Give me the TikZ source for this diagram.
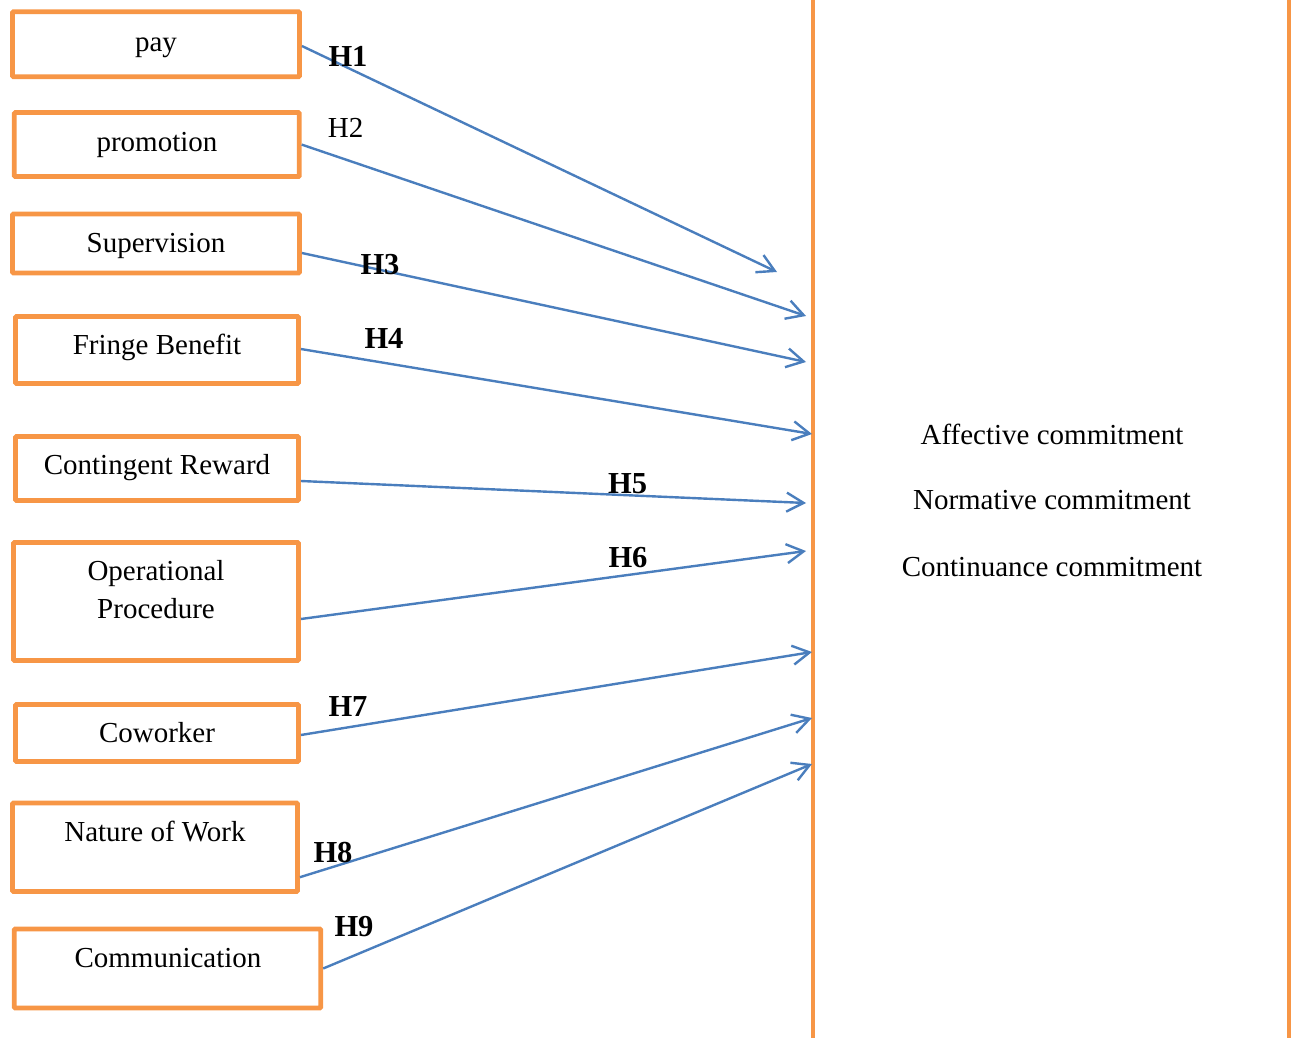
\documentclass[tikz,border=0pt]{standalone}
\usepackage{fontspec}
\setmainfont{Liberation Serif}
\usetikzlibrary{arrows.meta}
\definecolor{boxorange}{HTML}{F79646}
\definecolor{arrowblue}{HTML}{4A7EBD}
\begin{document}
\begin{tikzpicture}[x=1pt,y=-1pt,
  box/.style={draw=boxorange,line width=4.8pt,rounded corners=1pt,inner sep=0pt,fill=white},
  txt/.style={font=\fontsize{29}{34}\selectfont,inner sep=0pt,anchor=base},
  hyp/.style={font=\fontsize{30.5}{34}\selectfont\bfseries,inner sep=0pt,anchor=base},
  hypn/.style={font=\fontsize{29}{34}\selectfont,inner sep=0pt,anchor=base},
  link/.style={draw=arrowblue,line width=2.4pt,-{Straight Barb[length=17pt,width=19pt,line width=2.4pt]}},
  rail/.style={draw=boxorange,line width=4pt}]
\useasboundingbox (0,0) rectangle (1291,1038);
% right-hand block edges
\coordinate (rTop) at (813,0);
\coordinate (rBot) at (813,1038);
\coordinate (sTop) at (1289,0);
\coordinate (sBot) at (1289,1038);
\draw[rail] (rTop) -- (rBot);
\draw[rail] (sTop) -- (sBot);
% boxes
\node[box,minimum width=287pt,minimum height=65pt] (pay) at (156,44.2) {};
\node[box,minimum width=285pt,minimum height=64pt] (prom) at (156.8,144.6) {};
\node[box,minimum width=287pt,minimum height=59pt] (sup) at (156,243.5) {};
\node[box,minimum width=283pt,minimum height=67pt] (fringe) at (157,350) {};
\node[box,minimum width=283pt,minimum height=64pt] (cont) at (157,468.5) {};
\node[box,minimum width=285pt,minimum height=118pt] (oper) at (156,601.5) {};
\node[box,minimum width=283pt,minimum height=57pt] (cow) at (157,733) {};
\node[box,minimum width=285pt,minimum height=88.5pt] (nat) at (155,847.2) {};
\node[box,minimum width=306.6pt,minimum height=79pt] (comm) at (167.5,968.5) {};
% box texts
\node[txt] (tPay) at (156,52) {pay};
\node[txt] (tProm) at (157,151.7) {promotion};
\node[txt] (tSup) at (156,252) {Supervision};
\node[txt] (tFringe) at (157,354.5) {Fringe Benefit};
\node[txt] (tCont) at (157,474.5) {Contingent Reward};
\node[txt] (tOper1) at (156,580.5) {Operational};
\node[txt] (tOper2) at (156,618.5) {Procedure};
\node[txt] (tCow) at (157,742.5) {Coworker};
\node[txt] (tNat) at (155,841.7) {Nature of Work};
\node[txt] (tComm) at (168,967.7) {Communication};
% outcome texts
\node[txt] (aff) at (1052,444) {Affective commitment};
\node[txt] (norm) at (1052,509.5) {Normative commitment};
\node[txt] (cont2) at (1052,576) {Continuance commitment};
% arrow tips
\coordinate (e1) at (777,272);
\coordinate (e2) at (806,316);
\coordinate (e3) at (806,362);
\coordinate (e4) at (812,434);
\coordinate (e5) at (806,503);
\coordinate (e6) at (806,551);
\coordinate (e7) at (812,652);
\coordinate (e8) at (812,718);
\coordinate (e9) at (812,764);
% connectors
\draw[link] ([yshift=-1.8pt]pay.east) -- (e1);
\draw[link] (prom.east) -- (e2);
\draw[link] ([yshift=-9.5pt]sup.east) -- (e3);
\draw[link] ([yshift=1pt]fringe.east) -- (e4);
\draw[link] ([yshift=-12.5pt]cont.east) -- (e5);
\draw[link] ([yshift=-17.5pt]oper.east) -- (e6);
\draw[link] ([yshift=-2pt]cow.east) -- (e7);
\draw[link] ([yshift=-30pt]nat.east) -- (e8);
\draw[link] (comm.east) -- (e9);
% hypothesis labels
\node[hyp] (h1) at (348,66.7) {H1};
\node[hypn] (h2) at (345.7,137.3) {H2};
\node[hyp] (h3) at (380,274) {H3};
\node[hyp] (h4) at (384,348) {H4};
\node[hyp] (h5) at (627.7,493.3) {H5};
\node[hyp] (h6) at (628,567.3) {H6};
\node[hyp] (h7) at (348,716) {H7};
\node[hyp] (h8) at (333,862.7) {H8};
\node[hyp] (h9) at (354,936.7) {H9};
\end{tikzpicture}
\end{document}
